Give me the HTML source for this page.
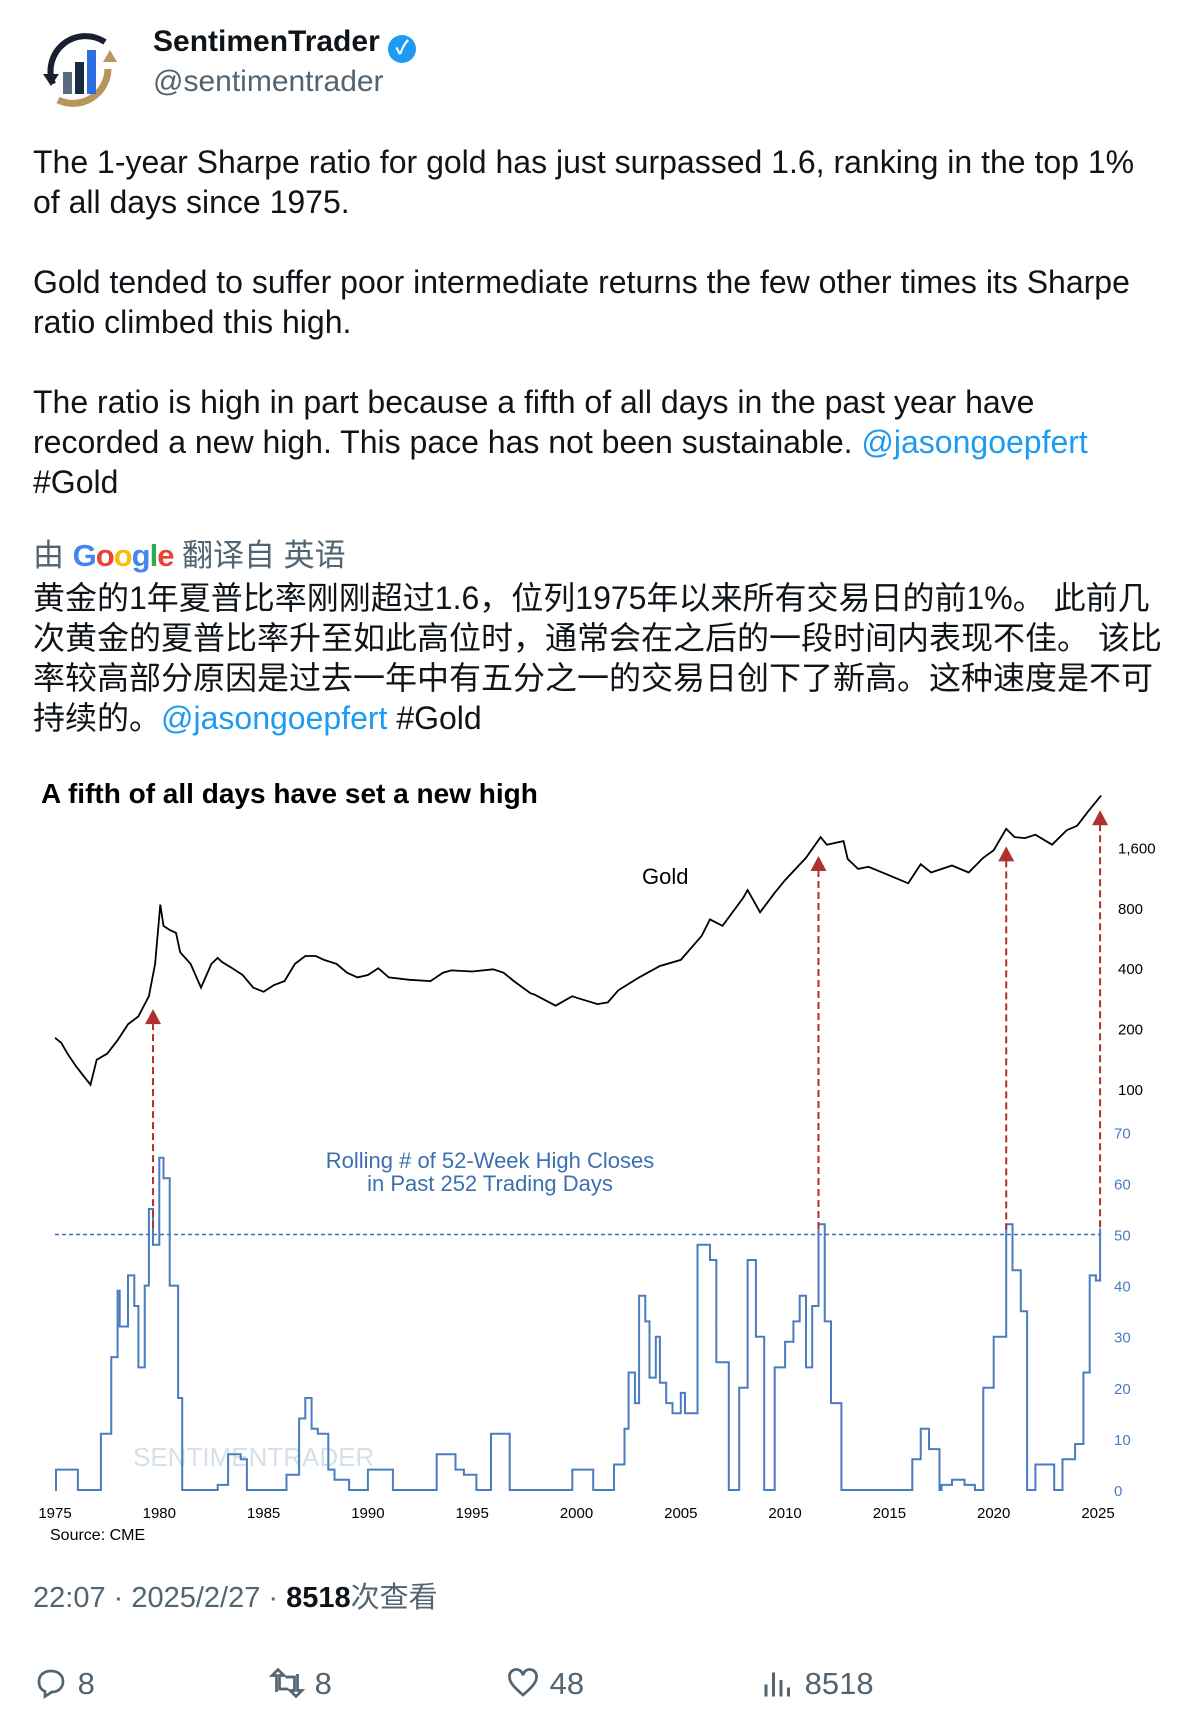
<!DOCTYPE html>
<html><head><meta charset="utf-8">
<style>
body{margin:0;width:1196px;height:1730px;background:#fff;position:relative;overflow:hidden;font-family:"Liberation Sans","Noto Sans CJK SC",sans-serif;color:#0f1419}
.a{position:absolute;white-space:nowrap}
.body{font-size:32px;line-height:40px}
.zh{font-size:32px;line-height:40px}
.link{color:#1d9bf0}
.grey{color:#536471}
</style></head><body>
<div class="a" style="left:33px;top:24px;width:90px;height:90px">
<svg width="90" height="90" viewBox="0 0 90 90">
<path d="M20 60 A35 35 0 0 1 72 18" stroke="#1a2030" stroke-width="6" fill="none"/>
<path d="M75 45 A35 35 0 0 1 25 76" stroke="#b8955a" stroke-width="7" fill="none"/>
<polygon points="10,50 26,50 18,62" fill="#1a2030"/>
<polygon points="70,38 84,38 77,26" fill="#b8955a"/>
<rect x="30" y="48" width="9" height="22" fill="#5a6a80"/>
<rect x="42" y="38" width="9" height="32" fill="#1a2a45"/>
<rect x="54" y="26" width="9" height="44" fill="#2d6fe0"/>
</svg></div>
<div class="a" style="left:153px;top:25px;font-size:30px;font-weight:bold">SentimenTrader <span style="display:inline-block;width:28px;height:28px;border-radius:50%;background:#1d9bf0;color:#fff;font-size:19px;text-align:center;line-height:28px;vertical-align:-3px">✓</span></div>
<div class="a grey" style="left:153px;top:65px;font-size:30px">@sentimentrader</div>

<div class="a body" style="left:33px;top:142px">The 1-year Sharpe ratio for gold has just surpassed 1.6, ranking in the top 1%<br>of all days since 1975.</div>
<div class="a body" style="left:33px;top:262px">Gold tended to suffer poor intermediate returns the few other times its Sharpe<br>ratio climbed this high.</div>
<div class="a body" style="left:33px;top:382px">The ratio is high in part because a fifth of all days in the past year have<br>recorded a new high. This pace has not been sustainable. <span class="link">@jasongoepfert</span><br><span>#Gold</span></div>

<div class="a grey" style="left:33px;top:530px;font-size:31px">由 <b style="letter-spacing:-1px"><span style="color:#4285f4">G</span><span style="color:#ea4335">o</span><span style="color:#fbbc05">o</span><span style="color:#4285f4">g</span><span style="color:#34a853">l</span><span style="color:#ea4335">e</span></b> 翻译自 英语</div>
<div class="a zh" style="left:33px;top:578px">黄金的1年夏普比率刚刚超过1.6，位列1975年以来所有交易日的前1%。 此前几<br>次黄金的夏普比率升至如此高位时，通常会在之后的一段时间内表现不佳。 该比<br>率较高部分原因是过去一年中有五分之一的交易日创下了新高。这种速度是不可<br>持续的。<span class="link">@jasongoepfert</span> #Gold</div>

<svg id="chart" class="a" style="left:0;top:0" width="1196" height="1730">
<text x="41" y="803" font-size="28" font-weight="bold" fill="#000">A fifth of all days have set a new high</text>
<text x="133" y="1466" font-size="26" fill="#c5d3e3" opacity="0.7">SENTIMENTRADER</text>
<text x="642" y="884" font-size="22" fill="#000">Gold</text>
<text x="490" y="1168" font-size="22" fill="#3c6fb0" text-anchor="middle">Rolling # of 52-Week High Closes</text>
<text x="490" y="1191" font-size="22" fill="#3c6fb0" text-anchor="middle">in Past 252 Trading Days</text>
<text x="50" y="1540" font-size="16" fill="#000">Source: CME</text>
<g id="g"></g>
</svg>

<div class="a grey" style="left:33px;top:1574px;font-size:29px">22:07 · 2025/2/27 · <b style="color:#0f1419">8518</b>次查看</div>

<div class="a grey" style="left:33px;top:1665px;font-size:31px"><svg width="36" height="36" viewBox="0 0 24 24" style="vertical-align:-7px"><path d="M12 4c5 0 8 3 8 7s-3 7-7.5 7L8 21v-3.5C5 16.5 4 14 4 11c0-4 3-7 8-7z" fill="none" stroke="#536471" stroke-width="1.8"/></svg> 8</div>
<div class="a grey" style="left:268px;top:1665px;font-size:31px"><svg width="38" height="36" viewBox="0 0 24 24" style="vertical-align:-7px"><path d="M5 18V7h-3l4-4 4 4H7v9h6M19 6v11h3l-4 4-4-4h3V8h-6" fill="none" stroke="#536471" stroke-width="1.8"/></svg> 8</div>
<div class="a grey" style="left:505px;top:1665px;font-size:31px"><svg width="36" height="36" viewBox="0 0 24 24" style="vertical-align:-7px"><path d="M12 20C5 14 3 11 3 8a4.5 4.5 0 0 1 9-1 4.5 4.5 0 0 1 9 1c0 3-2 6-9 12z" fill="none" stroke="#536471" stroke-width="1.8"/></svg> 48</div>
<div class="a grey" style="left:760px;top:1665px;font-size:31px"><svg width="36" height="36" viewBox="0 0 24 24" style="vertical-align:-7px"><path d="M4 21V13M9 21V5M14 21V10M19 21V15" stroke="#536471" stroke-width="2"/></svg> 8518</div>

<script>
const yearTicks=[1975,1980,1985,1990,1995,2000,2005,2010,2015,2020,2025];
const goldTicks=[100,200,400,800,1600];
const goldTickLabels=["100","200","400","800","1,600"];
const blueTicks=[0,10,20,30,40,50,60,70];
const goldYears=[1975,1975.3,1975.6,1976,1976.4,1976.7,1977,1977.5,1978,1978.5,1979,1979.5,1979.8,1980.05,1980.2,1980.5,1980.8,1981,1981.5,1982,1982.5,1982.8,1983,1983.5,1984,1984.5,1985,1985.5,1986,1986.5,1987,1987.5,1987.9,1988.5,1989,1989.5,1990,1990.5,1991,1992,1993,1993.6,1994,1995,1996,1996.5,1997,1997.8,1998,1999,1999.8,2000,2001,2001.5,2002,2003,2004,2005,2006,2006.4,2007,2008,2008.2,2008.8,2009.5,2010,2011,2011.7,2012,2012.8,2013,2013.5,2014,2015,2015.9,2016.5,2017,2018,2018.8,2019.5,2020,2020.6,2021,2021.5,2022,2022.8,2023.5,2024,2024.5,2025.15];
const goldPrices=[180,170,150,130,115,105,140,150,175,210,230,290,420,830,650,620,600,480,420,320,420,450,430,400,370,320,305,330,345,420,460,460,440,420,380,360,370,400,360,350,345,380,390,385,395,380,345,300,295,260,290,285,265,270,310,360,410,440,580,700,650,900,980,760,950,1100,1420,1800,1650,1720,1400,1250,1280,1160,1060,1320,1200,1300,1200,1420,1550,1980,1800,1780,1850,1650,1950,2050,2400,2900];
const blueYears=[1975,1975.05,1976.1,1977.2,1977.7,1978.0,1978.1,1978.5,1978.8,1979.0,1979.3,1979.5,1979.7,1980.0,1980.2,1980.5,1980.9,1981.1,1982.8,1983.3,1983.9,1984.2,1986.1,1986.7,1987.0,1987.3,1987.6,1988.1,1988.4,1989.1,1990.0,1991.2,1993.3,1994.2,1994.6,1995.2,1995.9,1996.8,1999.8,2000.8,2001.8,2002.3,2002.5,2002.8,2003.0,2003.3,2003.5,2003.8,2004.0,2004.3,2004.6,2005.0,2005.2,2005.8,2006.4,2006.7,2007.3,2007.8,2008.2,2008.6,2009.0,2009.5,2010.0,2010.4,2010.7,2011.0,2011.3,2011.6,2011.9,2012.2,2012.7,2016.1,2016.5,2016.9,2017.4,2017.5,2018.0,2018.6,2019.1,2019.5,2020.0,2020.6,2020.9,2021.3,2021.6,2022.0,2022.9,2023.3,2023.9,2024.3,2024.6,2024.9,2025.1];
const blueValues=[0,4,0,11,26,39,32,42,36,24,40,55,48,65,61,40,18,0,1,7,6,0,3,14,18,12,11,4,2,0,4,0,7,4,3,0,11,0,4,0,5,12,23,17,38,33,22,30,21,17,15,19,15,48,45,25,0,20,45,30,0,24,29,33,38,24,36,52,33,17,0,6,12,8,0,1,2,1,0,20,30,52,43,35,0,5,0,6,9,23,42,41,51];
const signalYears=[1979.7,2011.6,2020.6,2025.1];
const signalPrices=[250,1450,1620,2450];
const threshold=50;

const x=y=>55+(y-1975)*(1043/50);
const yG=p=>1089-Math.log2(p/100)*60.4;
const yB=v=>1490-v*5.11;
const ns="http://www.w3.org/2000/svg";
const G=document.getElementById('g');
function mk(t,a){const e=document.createElementNS(ns,t);for(const k in a)e.setAttribute(k,a[k]);G.appendChild(e);return e;}

yearTicks.forEach(yr=>{const t=mk('text',{x:x(yr),y:1518,'font-size':15,'text-anchor':'middle',fill:'#000'});t.textContent=yr;

});
goldTicks.forEach((p,i)=>{const t=mk('text',{x:1118,y:yG(p)+6,'font-size':15,fill:'#000'});t.textContent=goldTickLabels[i];

});
blueTicks.forEach(v=>{const t=mk('text',{x:1114,y:yB(v)+6,'font-size':15,fill:'#4a7cc0'});t.textContent=v;

});

const th=mk('line',{x1:55,x2:1101,y1:yB(threshold),y2:yB(threshold),stroke:'#3c6fb0','stroke-width':1.5,'stroke-dasharray':'4,3'});



let d='';goldYears.forEach((yr,i)=>{d+=(i?'L':'M')+x(yr).toFixed(1)+' '+yG(goldPrices[i]).toFixed(1);});
const gl=mk('path',{d:d,fill:'none',stroke:'#000','stroke-width':1.8});



let b='';blueYears.forEach((yr,i)=>{const px=x(yr).toFixed(1),py=yB(blueValues[i]).toFixed(1);
if(i===0)b+='M'+px+' '+py;else b+='H'+px+'V'+py;});
b+='H'+x(2025.15).toFixed(1);
const bl=mk('path',{d:b,fill:'none',stroke:'#4a7cc0','stroke-width':2});



signalYears.forEach((yr,i)=>{const sx=x(yr),sy=yG(signalPrices[i]);
const l=mk('line',{x1:sx,x2:sx,y1:sy+14,y2:yB(threshold+1),stroke:'#b03030','stroke-width':2,'stroke-dasharray':'7,4'});


const t=mk('polygon',{points:`${sx},${sy} ${sx-8},${sy+15} ${sx+8},${sy+15}`,fill:'#b03030'});

});
</script>
</body></html>
